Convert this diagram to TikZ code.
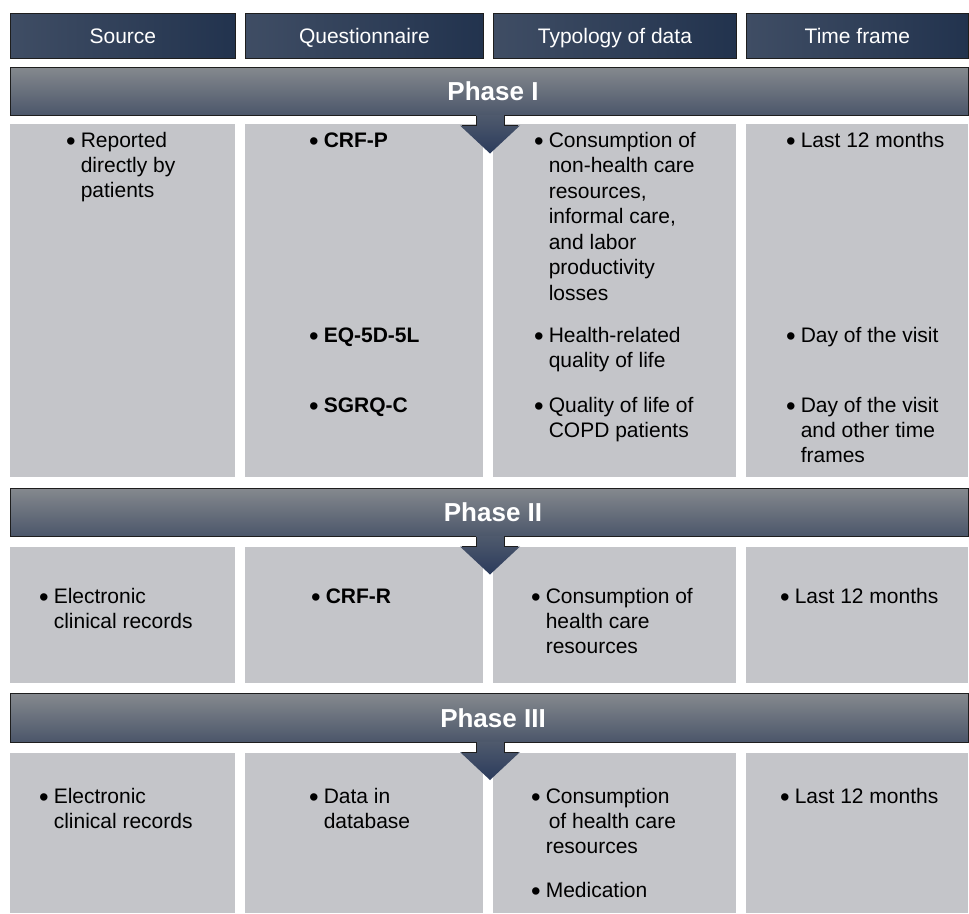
\documentclass[tikz,border=0pt]{standalone}
\usepackage{fontspec}
\usepackage{graphicx}
\setmainfont{Liberation Sans}
\definecolor{hdrL}{HTML}{3F4D64}
\definecolor{hdrR}{HTML}{22334E}
\definecolor{barT}{HTML}{85898E}
\definecolor{barB}{HTML}{4B566A}
\definecolor{arrT}{HTML}{4F5A6D}
\definecolor{arrB}{HTML}{2B3B5C}
\definecolor{cellc}{HTML}{C4C5C9}
\definecolor{edgec}{HTML}{1E1E1E}
\newcommand\bigbul{\raisebox{-3.4bp}{\scalebox{1.3}{\textbullet}}}
\newcommand\itemblock[1]{\begin{tabular}[t]{@{}l@{\hspace{5bp}}l@{}}\bigbul & #1\end{tabular}}
\tikzset{
  hdrbox/.style={shade, left color=hdrL, right color=hdrR, draw=edgec, line width=0.8bp, inner sep=0, anchor=north west, minimum height=45bp},
  hdrtxt/.style={text=white, font=\fontsize{21bp}{25bp}\selectfont, anchor=base, inner sep=0},
  cellbox/.style={fill=cellc, inner sep=0, anchor=north west},
  phtxt/.style={text=white, font=\bfseries\fontsize{26bp}{30bp}\selectfont, anchor=base, inner sep=0},
  itm/.style={font=\fontsize{21bp}{25bp}\selectfont, anchor=base west, inner sep=0, text=black},
  itmwide/.style={font=\fontsize{21bp}{25.5bp}\selectfont, anchor=base west, inner sep=0, text=black},
}
% phase bar: #1 top y, #2 node name, #3 label
\newcommand\phasebar[3]{%
  \shade[top color=barT, bottom color=barB] (10,#1) rectangle (968,#1+48.5);
  \draw[edgec, line width=0.8bp] (10,#1) rectangle (968,#1+48.5);
  \shade[top color=arrT, bottom color=arrB]
    (476,#1+48) -- (476,#1+58.5) -- (460,#1+58.5) -- (490,#1+86.5) -- (520,#1+58.5) -- (504,#1+58.5) -- (504,#1+48) -- cycle;
  \draw[edgec, line width=0.8bp, line join=miter]
    (476,#1+48.5) -- (476,#1+58.5) -- (462,#1+58.5)
    (504,#1+48.5) -- (504,#1+58.5) -- (518,#1+58.5);
  \node[phtxt] (#2) at (493,#1+33.5) {#3};
}
\begin{document}
\begin{tikzpicture}[x=1bp, y=-1bp]
\useasboundingbox[fill=white] (0,0) rectangle (969,914);

% header
\node[hdrbox, minimum width=225bp] (h1) at (10,13) {};
\node[hdrbox, minimum width=238bp] (h2) at (245,13) {};
\node[hdrbox, minimum width=243bp] (h3) at (493,13) {};
\node[hdrbox, minimum width=222bp] (h4) at (746,13) {};
\node[hdrtxt] (t1) at ([yshift=-7.5bp]h1.center) {Source};
\node[hdrtxt] (t2) at ([yshift=-7.5bp]h2.center) {Questionnaire};
\node[hdrtxt] (t3) at ([yshift=-7.5bp]h3.center) {Typology of data};
\node[hdrtxt] (t4) at ([yshift=-7.5bp]h4.center) {Time frame};

% cells phase I
\node[cellbox, minimum width=225bp, minimum height=353bp] (c11) at (10,124) {};
\node[cellbox, minimum width=238bp, minimum height=353bp] (c12) at (245,124) {};
\node[cellbox, minimum width=243bp, minimum height=353bp] (c13) at (493,124) {};
\node[cellbox, minimum width=222bp, minimum height=353bp] (c14) at (746,124) {};
% cells phase II
\node[cellbox, minimum width=225bp, minimum height=136bp] (c21) at (10,547) {};
\node[cellbox, minimum width=238bp, minimum height=136bp] (c22) at (245,547) {};
\node[cellbox, minimum width=243bp, minimum height=136bp] (c23) at (493,547) {};
\node[cellbox, minimum width=222bp, minimum height=136bp] (c24) at (746,547) {};
% cells phase III
\node[cellbox, minimum width=225bp, minimum height=160bp] (c31) at (10,753) {};
\node[cellbox, minimum width=238bp, minimum height=160bp] (c32) at (245,753) {};
\node[cellbox, minimum width=243bp, minimum height=160bp] (c33) at (493,753) {};
\node[cellbox, minimum width=222bp, minimum height=160bp] (c34) at (746,753) {};

% phase bars
\phasebar{67}{ph1}{Phase I}
\phasebar{488}{ph2}{Phase II}
\phasebar{693.5}{ph3}{Phase III}

% Phase I texts
\node[itm] (p1a) at (66,147) {\itemblock{Reported\\ & directly by\\ & patients}};
\node[itm] (p1b) at (309,147) {\itemblock{\textbf{CRF-P}}};
\node[itmwide] (p1c) at (534,147) {\itemblock{Consumption of\\ & non-health care\\ & resources,\\ & informal care,\\ & and labor\\ & productivity\\ & losses}};
\node[itm] (p1d) at (786,147) {\itemblock{Last 12 months}};
\node[itm] (p1e) at (309,342) {\itemblock{\textbf{EQ-5D-5L}}};
\node[itm] (p1f) at (534,342) {\itemblock{Health-related\\ & quality of life}};
\node[itm] (p1g) at (786,342) {\itemblock{Day of the visit}};
\node[itm] (p1h) at (309,412) {\itemblock{\textbf{SGRQ-C}}};
\node[itm] (p1i) at (534,412) {\itemblock{Quality of life of\\ & COPD patients}};
\node[itm] (p1j) at (786,412) {\itemblock{Day of the visit\\ & and other time\\ & frames}};

% Phase II texts
\node[itm] (p2a) at (39,603) {\itemblock{Electronic\\ & clinical records}};
\node[itm] (p2b) at (311,603) {\itemblock{\textbf{CRF-R}}};
\node[itm] (p2c) at (531,603) {\itemblock{Consumption of\\ & health care\\ & resources}};
\node[itm] (p2d) at (780,603) {\itemblock{Last 12 months}};

% Phase III texts
\node[itm] (p3a) at (39,803) {\itemblock{Electronic\\ & clinical records}};
\node[itm] (p3b) at (309,803) {\itemblock{Data in\\ & database}};
\node[itm] (p3c) at (531,803) {\itemblock{Consumption\\ & \hspace{3bp}of health care\\ & resources}};
\node[itm] (p3d) at (780,803) {\itemblock{Last 12 months}};
\node[itm] (p3e) at (531,897) {\itemblock{Medication}};
\end{tikzpicture}
\end{document}
